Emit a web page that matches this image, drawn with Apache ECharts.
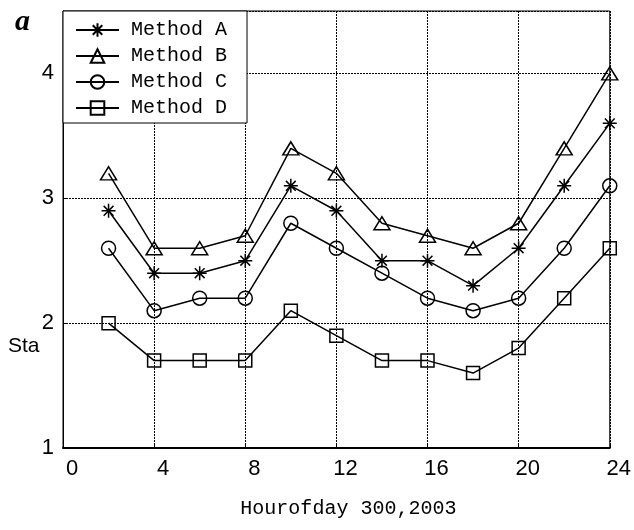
<!DOCTYPE html>
<html>
<head>
<meta charset="utf-8">
<style>html,body{margin:0;padding:0;background:#fff;}#c{width:634px;height:530px;}</style>
<script src="https://cdn.jsdelivr.net/npm/echarts@6/dist/echarts.min.js"></script>
</head>
<body>
<div id="c"></div>
<script>
var hours = [2, 4, 6, 8, 10, 12, 14, 16, 18, 20, 22, 24];
var methodA = [2.9, 2.4, 2.4, 2.5, 3.1, 2.9, 2.5, 2.5, 2.3, 2.6, 3.1, 3.6];
var methodB = [3.2, 2.6, 2.6, 2.7, 3.4, 3.2, 2.8, 2.7, 2.6, 2.8, 3.4, 4.0];
var methodC = [2.6, 2.1, 2.2, 2.2, 2.8, 2.6, 2.4, 2.2, 2.1, 2.2, 2.6, 3.1];
var methodD = [2.0, 1.7, 1.7, 1.7, 2.1, 1.9, 1.7, 1.7, 1.6, 1.8, 2.2, 2.6];
var seriesNames = ['Method A', 'Method B', 'Method C', 'Method D'];
var xTitle = 'Hourofday 300,2003';
var yTitle = 'Sta';
var panelLabel = 'a';

var starPath = 'path://M10 0 L10 20 M0 10 L20 10 M3 3 L17 17 M3 17 L17 3';

function pairs(vals) { return hours.map(function (h, i) { return [h, vals[i]]; }); }

function mk(name, vals, symbol, size) {
  return {
    name: name, type: 'line', data: pairs(vals),
    symbol: symbol, symbolSize: size, showAllSymbol: true,
    lineStyle: { color: '#000', width: 1.5 },
    itemStyle: { color: 'transparent', borderColor: '#000', borderWidth: 1.5 },
    emphasis: { disabled: true }
  };
}

var chart = echarts.init(document.getElementById('c'), null, { renderer: 'canvas' });
chart.setOption({
  animation: false,
  backgroundColor: '#fff',
  title: {
    text: panelLabel, left: 10, top: 2,
    textStyle: { fontFamily: 'Liberation Serif', fontStyle: 'italic', fontWeight: 'bold', fontSize: 30, color: '#000' }
  },
  grid: { left: 63, right: 22, top: 11, bottom: 82, show: true, borderColor: '#000', borderWidth: 1, backgroundColor: 'transparent' },
  legend: {
    orient: 'vertical', left: 63, top: 11,
    padding: [9, 20, 5, 12],
    itemWidth: 43, itemHeight: 17, itemGap: 6,
    backgroundColor: '#fff', borderColor: '#000', borderWidth: 1,
    textStyle: { fontFamily: 'Liberation Mono', fontSize: 20, color: '#000', padding: [0, 0, 0, 7] },
    data: seriesNames
  },
  xAxis: {
    type: 'value', min: 0, max: 24, interval: 4,
    name: xTitle, nameLocation: 'middle', nameGap: 51,
    nameTextStyle: { fontFamily: 'Liberation Mono', fontSize: 20, color: '#000', padding: [0, 0, 0, 24] },
    axisLine: { show: true, lineStyle: { color: '#000', width: 2 } },
    axisTick: { show: true, inside: true, length: 5, lineStyle: { color: '#000' } },
    axisLabel: { margin: 10, fontFamily: 'Liberation Sans', fontSize: 22, color: '#000', padding: [0, 0, 0, 18] },
    splitLine: { show: true, lineStyle: { color: '#000', width: 1, type: [2, 1] } }
  },
  yAxis: {
    type: 'value', min: 1, max: 4.5, interval: 1,
    axisLine: { show: true, lineStyle: { color: '#000', width: 1 } },
    axisTick: { show: true, inside: true, length: 5, lineStyle: { color: '#000' } },
    axisLabel: { margin: 9, showMaxLabel: false, fontFamily: 'Liberation Sans', fontSize: 22, color: '#000' },
    splitLine: { show: true, lineStyle: { color: '#000', width: 1, type: [2, 1] } }
  },
  graphic: [{
    type: 'text', left: 8, top: 336,
    style: { text: yTitle, fontFamily: 'Liberation Sans', fontSize: 21, fill: '#000' }
  }],
  series: [
    mk(seriesNames[0], methodA, starPath, 14),
    mk(seriesNames[1], methodB, 'triangle', [16, 13]),
    mk(seriesNames[2], methodC, 'circle', 14),
    mk(seriesNames[3], methodD, 'rect', 13)
  ]
});
</script>
</body>
</html>
